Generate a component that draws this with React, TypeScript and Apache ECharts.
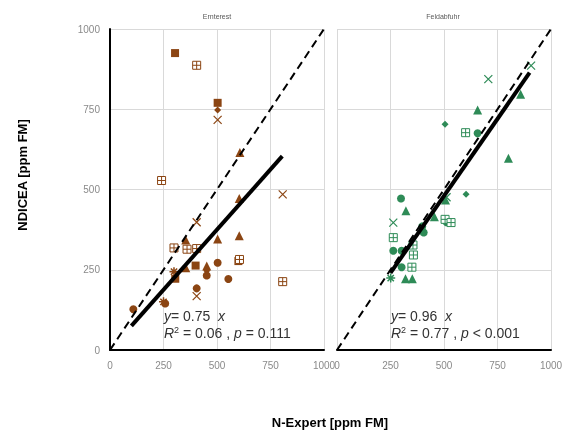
import React, { useEffect, useRef } from "react";
import * as echarts from "echarts";

const panelTitles = ["Ernterest", "Feldabfuhr"];
const xTicks = [0, 250, 500, 750, 1000];

// Ernterest (brown)
const erntSquare = [[304, 925], [503, 770], [305, 222], [400, 263], [600, 277]];
const erntBoxCross = [[405, 887], [241, 528], [299, 318], [360, 314], [405, 316], [605, 282], [807, 213]];
const erntDiamond = [[503, 748], [452, 247]];
const erntCross = [[503, 717], [807, 485], [405, 398], [405, 168]];
const erntTriangle = [[607, 615], [604, 472], [354, 343], [503, 346], [604, 356], [354, 256], [452, 262]];
const erntCircle = [[503, 272], [553, 221], [405, 192], [452, 232], [258, 145], [109, 127]];
const erntStar = [[299, 244], [250, 150]];
const erntFit = [[100, 75], [805, 604]];

// Feldabfuhr (green)
const feldCross = [[907, 886], [707, 844], [263, 397], [512, 476]];
const feldTriangle = [[858, 797], [657, 748], [801, 597], [322, 434], [507, 467], [455, 415], [320, 222], [352, 222]];
const feldDiamond = [[505, 703], [603, 485]];
const feldBoxCross = [[601, 677], [505, 407], [533, 397], [263, 350], [355, 327], [357, 296], [350, 258]];
const feldCircle = [[657, 675], [299, 472], [512, 398], [405, 366], [263, 309], [302, 309], [302, 258], [398, 385]];
const feldStar = [[251, 224]];
const feldFit = [[250, 240], [900, 864]];

const oneToOne = [[0, 0], [1000, 1000]];

const BROWN = "#8B4513";
const GREEN = "#2E8B57";

const SYM_BOX = "path://M0,0H10V10H0Z M5,0V10 M0,5H10";
const SYM_X = "path://M0,0L10,10M10,0L0,10";
const SYM_STAR = "path://M5,0V10M0,5H10M1.5,1.5L8.5,8.5M8.5,1.5L1.5,8.5";
const FONT = "Liberation Sans, Arial, sans-serif";

export default function App() {
  const ref = useRef<HTMLDivElement>(null);
  useEffect(() => {
    if (!ref.current) return;
    const chart = echarts.init(ref.current, null, { renderer: "svg" });

    const mk = (idx: number, color: string, shapes: any) => {
      const out: any[] = [];
      const base = { type: "scatter", xAxisIndex: idx, yAxisIndex: idx, z: 3 };
      out.push({ ...base, data: shapes.square, symbol: "rect", symbolSize: 8, itemStyle: { color, opacity: 1 } });
      out.push({ ...base, data: shapes.triangle, symbol: "triangle", symbolSize: 9, itemStyle: { color, opacity: 1 } });
      out.push({ ...base, data: shapes.circle, symbol: "circle", symbolSize: 8, itemStyle: { color, opacity: 1 } });
      out.push({ ...base, data: shapes.diamond, symbol: "diamond", symbolSize: 7, itemStyle: { color, opacity: 1 } });
      out.push({ ...base, data: shapes.box, symbol: SYM_BOX, symbolSize: 8, itemStyle: { color: "#ffffff", borderColor: color, borderWidth: 1, opacity: 1 } });
      out.push({ ...base, data: shapes.cross, symbol: SYM_X, symbolSize: 8, itemStyle: { color: "none", borderColor: color, borderWidth: 1.2, opacity: 1 } });
      out.push({ ...base, data: shapes.star, symbol: SYM_STAR, symbolSize: 9, itemStyle: { color: "none", borderColor: color, borderWidth: 1.5, opacity: 1 } });
      out.push({
        type: "line", xAxisIndex: idx, yAxisIndex: idx, data: oneToOne, symbol: "none", z: 4,
        lineStyle: { color: "#000", width: 2, type: [8, 5] },
      });
      out.push({
        type: "line", xAxisIndex: idx, yAxisIndex: idx, data: shapes.fit, symbol: "none", z: 5,
        lineStyle: { color: "#000", width: 4 },
      });
      return out;
    };

    const grids = [
      { left: 110, top: 29, width: 214, height: 321 },
      { left: 337, top: 29, width: 214, height: 321 },
    ];

    const xAxis = [0, 1].map((i) => ({
      type: "value", gridIndex: i, min: 0, max: 1000, interval: 250,
      axisLine: { show: true, onZero: false, lineStyle: { color: "#000", width: 2 } },
      axisTick: { show: false },
      axisLabel: { color: "#8a8a8a", fontSize: 10, margin: 10, fontFamily: FONT,
        formatter: (v: number) => (xTicks.includes(v) ? String(v) : "") },
      splitLine: { show: true, lineStyle: { color: "#d9d9d9", width: 1 } },
    }));
    const yAxis = [0, 1].map((i) => ({
      type: "value", gridIndex: i, min: 0, max: 1000, interval: 250,
      axisLine: { show: i === 0, onZero: false, lineStyle: { color: "#000", width: 2 } },
      axisTick: { show: false },
      axisLabel: { show: i === 0, color: "#8a8a8a", fontSize: 10, margin: 10, fontFamily: FONT,
        formatter: (v: number) => String(v) },
      splitLine: { show: true, lineStyle: { color: "#d9d9d9", width: 1 } },
    }));

    const rich = {
      i: { fontStyle: "italic", fontSize: 14, fill: "#333", fontFamily: FONT },
      n: { fontSize: 14, fill: "#333", fontFamily: FONT },
      sup: { fontSize: 9, fill: "#333", verticalAlign: "top", padding: [0, 0, 6, 0], fontFamily: FONT },
    };
    const annot = (x: number, slope: string, r2: string, p: string) => [
      { type: "text", left: x, top: 309, z: 10, style: { text: `{i|y}{n|= ${slope}  }{i|x}`, rich } },
      { type: "text", left: x, top: 325, z: 10, style: { text: `{i|R}{sup|2}{n| = ${r2} , }{i|p}{n|${p}}`, rich } },
    ];

    const option: any = {
      animation: false,
      grid: grids,
      xAxis,
      yAxis,
      series: [
        ...mk(0, BROWN, { square: erntSquare, triangle: erntTriangle, circle: erntCircle, diamond: erntDiamond, box: erntBoxCross, cross: erntCross, star: erntStar, fit: erntFit }),
        ...mk(1, GREEN, { square: [], triangle: feldTriangle, circle: feldCircle, diamond: feldDiamond, box: feldBoxCross, cross: feldCross, star: feldStar, fit: feldFit }),
      ],
      graphic: [
        { type: "text", x: 217, y: 16, style: { text: panelTitles[0], fontSize: 7, fill: "#595959", align: "center", verticalAlign: "middle", fontFamily: FONT } },
        { type: "text", x: 443, y: 16, style: { text: panelTitles[1], fontSize: 7, fill: "#595959", align: "center", verticalAlign: "middle", fontFamily: FONT } },
        { type: "text", x: 22, y: 175, rotation: Math.PI / 2, style: { text: "NDICEA [ppm FM]", fontSize: 13, fontWeight: "bold", fill: "#000", align: "center", verticalAlign: "middle", fontFamily: FONT } },
        { type: "text", x: 330, y: 422, style: { text: "N-Expert [ppm FM]", fontSize: 13, fontWeight: "bold", fill: "#000", align: "center", verticalAlign: "middle", fontFamily: FONT } },
        ...annot(164, "0.75", "0.06", " = 0.111"),
        ...annot(391, "0.96", "0.77", " < 0.001"),
      ],
    };
    chart.setOption(option);
    return () => chart.dispose();
  }, []);
  return <div ref={ref} style={{ position: "fixed", left: 0, top: 0, width: 567, height: 432 }} />;
}
